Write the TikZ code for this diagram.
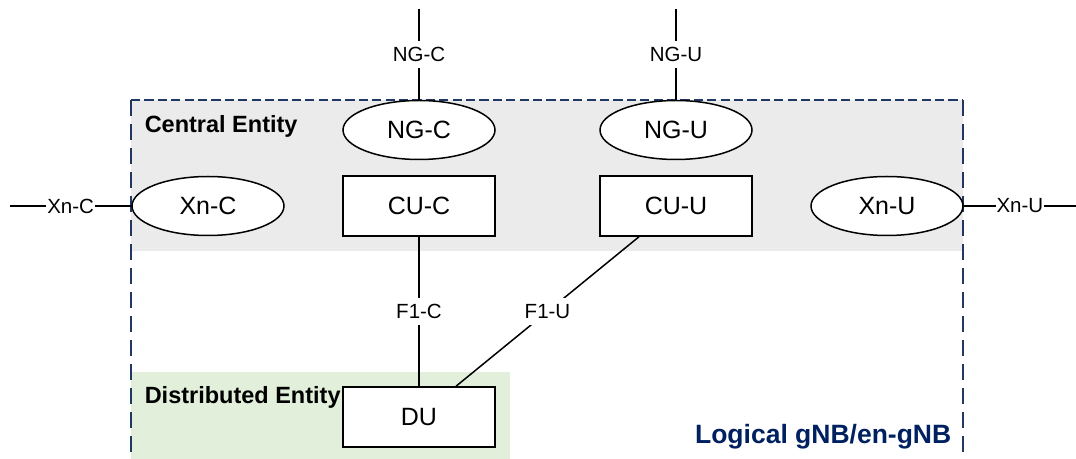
\documentclass[tikz,border=0pt]{standalone}
\usepackage{fontspec}
\setmainfont{Liberation Sans}
\usetikzlibrary{shapes.geometric}
\definecolor{framenavy}{RGB}{31,56,100}
\definecolor{textnavy}{RGB}{0,32,96}
\definecolor{centralgray}{RGB}{235,235,235}
\definecolor{distgreen}{RGB}{226,239,218}
\tikzset{
  unit/.style={draw, fill=white, minimum width=76pt, inner sep=0pt, font=\fontsize{12.5}{15}\selectfont},
  unitbox/.style={unit, rectangle, minimum height=30pt},
  unitoval/.style={unit, ellipse, minimum height=29.5pt},
  iflabel/.style={fill=white, inner xsep=0.5pt, inner ysep=3pt, font=\fontsize{10.25}{12}\selectfont},
  entity/.style={anchor=base west, inner sep=0pt, font=\fontsize{11.75}{14}\selectfont\bfseries},
  frameside/.style={framenavy, line width=1pt, dash pattern=on 8pt off 4pt},
  frametop/.style={framenavy, line width=1pt, dash pattern=on 4.6pt off 2.1pt},
}
\begin{document}
\begin{tikzpicture}[x=0.5pt, y=-0.5pt, line width=0.75pt]
\useasboundingbox (0,0) rectangle (1076,459);
\fill[centralgray] (131,100) rectangle (963,251);
\fill[distgreen] (131,372) rectangle (510,459);
\draw[frametop] (131,100) -- (963,100);
\draw[frameside] (131,100) -- (131,459);
\draw[frameside] (963,100) -- (963,459);
\node[entity] (central) at (144,133) {Central Entity};
\node[entity] (distributed) at (144,404) {Distributed Entity};
\node[entity, anchor=base east, text=textnavy, font=\fontsize{13.25}{16}\selectfont\bfseries] (logical) at (952,444) {Logical gNB/en-gNB};
\coordinate (ng_c_end) at (419,9);
\coordinate (ng_u_end) at (676,9);
\coordinate (xn_c_end) at (10,206);
\coordinate (xn_u_end) at (1076,206);
\node[unitoval] (ng_c) at (419,130) {NG-C};
\node[unitoval] (ng_u) at (676,130) {NG-U};
\node[unitoval] (xn_c) at (208,206) {Xn-C};
\node[unitoval] (xn_u) at (887,206) {Xn-U};
\node[unitbox] (cu_c) at (419,206) {CU-C};
\node[unitbox] (cu_u) at (676,206) {CU-U};
\node[unitbox] (du) at (419,417) {DU};
\draw (ng_c_end) -- (ng_c) node[midway, iflabel] {NG-C};
\draw (ng_u_end) -- (ng_u) node[midway, iflabel] {NG-U};
\draw (xn_c_end) -- (xn_c) node[midway, iflabel] {Xn-C};
\draw (xn_u) -- (xn_u_end) node[midway, iflabel] {Xn-U};
\draw (cu_c) -- (du) node[midway, iflabel] {F1-C};
\draw ([xshift=-18.5pt]cu_u.south) -- ([xshift=18.5pt]du.north) node[midway, iflabel] {F1-U};
\end{tikzpicture}
\end{document}
